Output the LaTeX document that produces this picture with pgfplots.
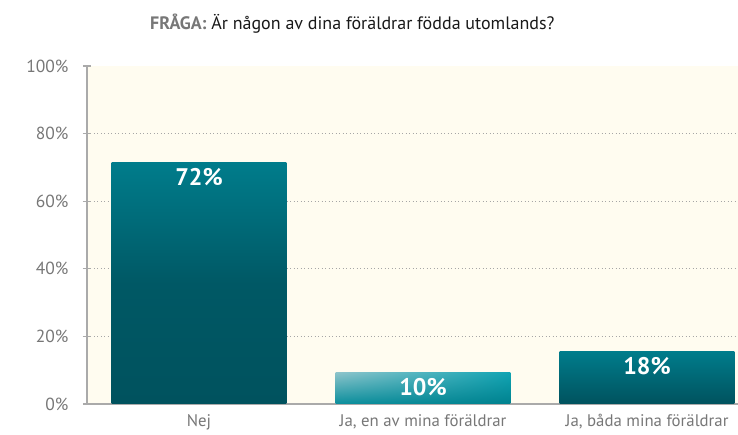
\documentclass[border=0pt]{standalone}
\usepackage{pgfplots}
\pgfplotsset{compat=1.18}
\usetikzlibrary{shadings}
\usepackage{fontspec}
\setmainfont{PT Sans}
\definecolor{bg}{HTML}{FFFCF0}
\definecolor{axgray}{HTML}{AAAAAA}
\definecolor{txtgray}{HTML}{777777}
\definecolor{tealtop}{HTML}{007C8B}
\definecolor{tealbot}{HTML}{00525E}
\definecolor{cul}{HTML}{8BC3CA}
\definecolor{cur}{HTML}{10A3B2}
\definecolor{cll}{HTML}{0A8E9C}
\definecolor{clr}{HTML}{00818E}
\pgfplotstableread{
x y lab
0 71.3 72\%
}\nej
\pgfplotstableread{
x y lab
1 9.2 10\%
}\enav
\pgfplotstableread{
x y lab
2 15.4 18\%
}\bada
\begin{document}
\begin{tikzpicture}
\useasboundingbox (-87pt,-31pt) rectangle (651pt,404pt);
\begin{axis}[
  scale only axis, width=651pt, height=338pt,
  xmin=-0.5, xmax=2.406, ymin=0, ymax=100,
  axis lines=left,
  axis line style={-, axgray, line width=1.3pt},
  axis background/.style={fill=bg},
  ytick={0,20,...,100},
  yticklabel={\pgfmathprintnumber{\tick}\%},
  /pgf/number format/assume math mode=true,
  yticklabel style={font=\fontsize{17.5}{19}\selectfont, text=txtgray, xshift=-11pt},
  major tick length=8pt,
  tick style={axgray, line width=1.3pt},
  xtick={0,1,2},
  xticklabels={Nej, {Ja, en av mina föräldrar}, {Ja, båda mina föräldrar}},
  xticklabel style={font=\fontsize{16.8}{18}\selectfont, text=txtgray, yshift=1pt},
  x tick style={draw=none},
  extra x ticks={-0.5,0.5,1.5},
  extra x tick labels={},
  extra x tick style={tick style={axgray, line width=1.3pt}, major tick length=8pt},
  extra y ticks={20,40,60,80},
  extra y tick labels={},
  extra y tick style={ymajorgrids=true, grid style={dash pattern=on 0.9pt off 2.6pt, gray!70, line width=0.9pt}},
  ybar, bar width=0.78, bar shift=0pt,
  clip=false,
  nodes near coords,
  point meta=explicit symbolic,
  every node near coord/.append style={anchor=north, yshift=-2pt, text=white, font=\fontsize{24}{26}\selectfont\bfseries},
]
\addplot[draw=none, top color=tealtop, bottom color=tealbot, middle color=tealbot!85!tealtop] table[x=x, y=y, meta=lab] {\nej};
\addplot[draw=none, upper left=cul, upper right=cur, lower left=cll, lower right=clr] table[x=x, y=y, meta=lab] {\enav};
\addplot[draw=none, top color=tealtop, bottom color=tealbot] table[x=x, y=y, meta=lab] {\bada};
\end{axis}
\node[anchor=base west, font=\fontsize{18}{20}\selectfont, inner sep=0pt] at (63pt,374pt) {{\bfseries\color{txtgray}FRÅGA:} \color{black!90}Är någon av dina föräldrar födda utomlands?};
\end{tikzpicture}
\end{document}
